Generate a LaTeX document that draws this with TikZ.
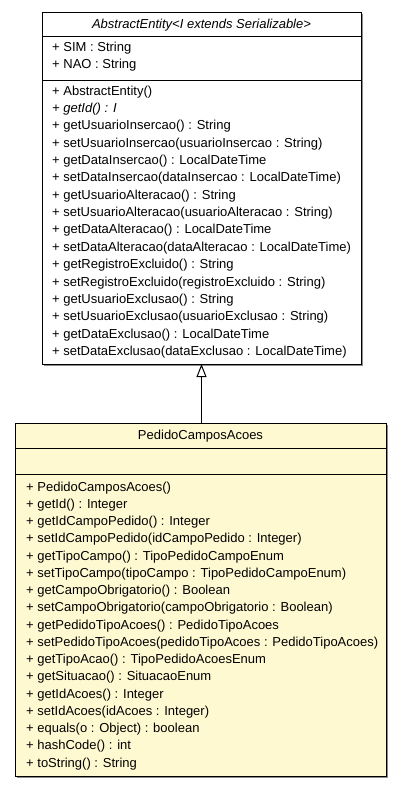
\documentclass[tikz,border=0pt]{standalone}
\usepackage{fontspec}
\setmainfont{Liberation Sans}
\usetikzlibrary{arrows.meta}
\definecolor{classfill}{RGB}{255,249,210}
\definecolor{shadowc}{RGB}{140,140,140}
\begin{document}
\begin{tikzpicture}[x=1pt,y=-1pt,
  box/.style={draw=black, line width=1pt, inner sep=0pt, outer sep=0pt, anchor=north west},
  sep/.style={draw=black, line width=1pt},
  shadow/.style={fill=shadowc},
  txt/.style={anchor=base west, inner sep=0pt, font=\fontsize{13}{15}\selectfont},
  title/.style={anchor=base, inner sep=0pt, font=\fontsize{13}{15}\selectfont},
  gen/.style={-{Triangle[open,length=13pt,width=10pt]}, line width=1pt, fill=white}]
\useasboundingbox (0,0) rectangle (403,787);
% AbstractEntity
\fill[shadow] (44,14) rectangle (363,366);
\node[box, fill=white, minimum width=319pt, minimum height=352pt] (abs) at (42,12) {};
\draw[sep] (42,36) -- (361,36);
\draw[sep] (42,80) -- (361,80);
\node[title] (absname) at (201.5,28.5) {\itshape AbstractEntity<I extends Serializable>};
\node[txt] (a1) at (52,51.5) {+ SIM : String};
\node[txt] (a2) at (52,68.7) {+ NAO : String};
\foreach \t [count=\i from 0] in {%
  + AbstractEntity(),
  \itshape + getId() : I,
  + getUsuarioInsercao() : String,
  + setUsuarioInsercao(usuarioInsercao : String),
  + getDataInsercao() : LocalDateTime,
  + setDataInsercao(dataInsercao : LocalDateTime),
  + getUsuarioAlteracao() : String,
  + setUsuarioAlteracao(usuarioAlteracao : String),
  + getDataAlteracao() : LocalDateTime,
  + setDataAlteracao(dataAlteracao : LocalDateTime),
  + getRegistroExcluido() : String,
  + setRegistroExcluido(registroExcluido : String),
  + getUsuarioExclusao() : String,
  + setUsuarioExclusao(usuarioExclusao : String),
  + getDataExclusao() : LocalDateTime,
  + setDataExclusao(dataExclusao : LocalDateTime)}
  \node[txt] (am\i) at (52,95.1+17.36*\i) {\t};
% PedidoCamposAcoes
\fill[shadow] (17,425) rectangle (388,778);
\node[box, fill=classfill, minimum width=371pt, minimum height=353pt] (ped) at (15,423) {};
\draw[sep] (15,448) -- (386,448);
\draw[sep] (15,474) -- (386,474);
\node[title] (pedname) at (200.5,439.5) {PedidoCamposAcoes};
\foreach \t [count=\i from 0] in {%
  + PedidoCamposAcoes(),
  + getId() : Integer,
  + getIdCampoPedido() : Integer,
  + setIdCampoPedido(idCampoPedido : Integer),
  + getTipoCampo() : TipoPedidoCampoEnum,
  + setTipoCampo(tipoCampo : TipoPedidoCampoEnum),
  + getCampoObrigatorio() : Boolean,
  + setCampoObrigatorio(campoObrigatorio : Boolean),
  + getPedidoTipoAcoes() : PedidoTipoAcoes,
  + setPedidoTipoAcoes(pedidoTipoAcoes : PedidoTipoAcoes),
  + getTipoAcao() : TipoPedidoAcoesEnum,
  + getSituacao() : SituacaoEnum,
  + getIdAcoes() : Integer,
  + setIdAcoes(idAcoes : Integer),
  + equals(o : Object) : boolean,
  + hashCode() : int,
  + toString() : String}
  \node[txt] (pm\i) at (26,491+17.25*\i) {\t};
% generalization
\draw[gen] (ped.north -| abs.south) -- (abs.south);
\end{tikzpicture}
\end{document}
